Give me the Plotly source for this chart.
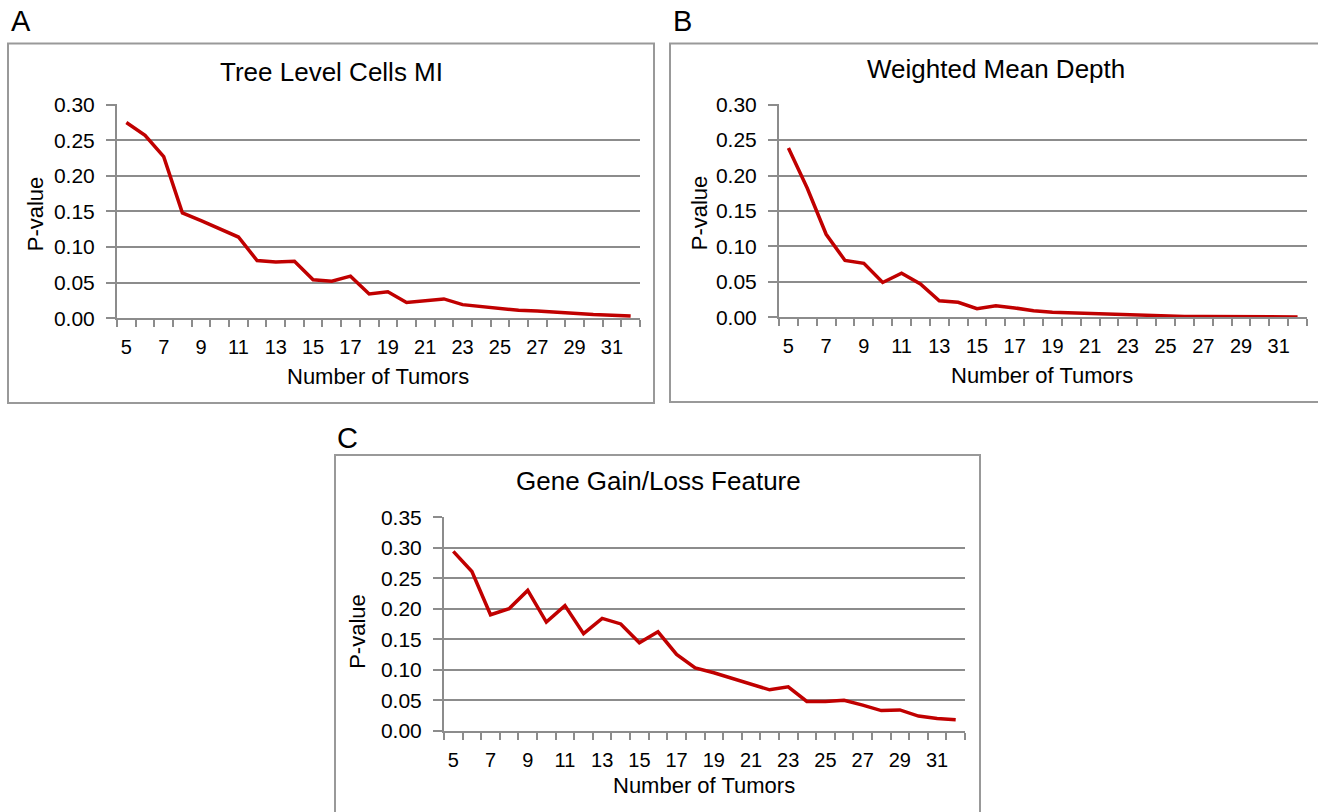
import plotly.graph_objects as go

W, H = 1318, 812

tumors = list(range(5, 33))
tick_labels = [str(v) for v in range(5, 33, 2)]

tree_level_cells_mi = [0.275, 0.257, 0.227, 0.148, 0.137, 0.125, 0.114, 0.081, 0.079, 0.080,
                       0.054, 0.052, 0.059, 0.034, 0.037, 0.022, 0.024, 0.027, 0.019, 0.016,
                       0.013, 0.011, 0.010, 0.008, 0.006, 0.005, 0.004, 0.003]
weighted_mean_depth = [0.239, 0.182, 0.117, 0.080, 0.076, 0.049, 0.062, 0.047, 0.023, 0.021,
                       0.012, 0.016, 0.013, 0.009, 0.007, 0.006, 0.005, 0.004, 0.003, 0.002,
                       0.002, 0.001, 0.001, 0.001, 0.001, 0.0005, 0.0005, 0.0003]
gene_gain_loss = [0.294, 0.261, 0.190, 0.200, 0.230, 0.178, 0.205, 0.159, 0.184, 0.175,
                  0.144, 0.162, 0.125, 0.103, 0.095, 0.086, 0.077, 0.067, 0.072, 0.048,
                  0.048, 0.050, 0.042, 0.033, 0.034, 0.024, 0.020, 0.018]

titles = ["Tree Level Cells MI", "Weighted Mean Depth", "Gene Gain/Loss Feature"]
panel_letters = ["A", "B", "C"]
y_max = [0.30, 0.30, 0.35]

FONT = "Liberation Sans, Arial, sans-serif"
GRID = "#8c8c8c"
RED = "#C00000"
BOX = "#999999"


def px_x(x):
    return x / W


def Y(y):
    # compensate the vertical offset/scale observed in the rendered page
    return (y - 9.5) / 0.974


def px_y(y):
    return 1 - Y(y) / H


# plot-area pixel boxes (target screenshot coords): (left, right, top, bottom)
areas = [(117, 640, 103, 317), (779, 1307, 103, 316), (444, 965, 516, 730)]

fig = go.Figure()
series = [tree_level_cells_mi, weighted_mean_depth, gene_gain_loss]
layout = dict(
    width=W, height=H, margin=dict(l=0, r=0, t=0, b=0),
    paper_bgcolor="white", plot_bgcolor="white", showlegend=False,
    font=dict(family=FONT, color="black", size=19),
)

for i, (vals, area) in enumerate(zip(series, areas)):
    sfx = "" if i == 0 else str(i + 1)
    fig.add_trace(go.Scatter(x=tumors, y=vals, mode="lines",
                             line=dict(color=RED, width=3.5),
                             xaxis="x" + sfx, yaxis="y" + sfx, hoverinfo="skip"))
    l, r, t, b = area
    layout["xaxis" + sfx] = dict(
        domain=[px_x(l), px_x(r)], anchor="y" + sfx,
        range=[4.5, 32.5], tickmode="array",
        tickvals=list(range(5, 33, 2)), ticktext=tick_labels,
        ticks="outside", ticklen=6, tickcolor="rgba(0,0,0,0)",
        ticklabelstandoff=4,
        showgrid=False, zeroline=False,
        showline=True, linecolor=GRID, linewidth=2,
        tickfont=dict(size=20, family=FONT, color="black"),
        minor=dict(tick0=4.5, dtick=1, ticks="outside", ticklen=7,
                   tickcolor=GRID, tickwidth=2, showgrid=False),
    )
    ym = y_max[i]
    layout["yaxis" + sfx] = dict(
        domain=[px_y(b), px_y(t)], anchor="x" + sfx,
        range=[0, ym + 0.0004], tickmode="linear", tick0=0, dtick=0.05,
        tickformat=".2f", ticks="outside", ticklen=9, tickcolor=GRID, tickwidth=2,
        ticklabelstandoff=7,
        showgrid=True, gridcolor=GRID, gridwidth=2, zeroline=False,
        showline=True, linecolor=GRID, linewidth=2,
        tickfont=dict(size=21, family=FONT, color="black"),
    )

fig.update_layout(**layout)

# panel boxes
boxes = [(8, 654, 42, 402), (670, 1330, 42, 401), (335, 980, 454, 840)]
for (l, r, t, b) in boxes:
    fig.add_shape(type="rect", xref="paper", yref="paper",
                  x0=px_x(l), x1=px_x(r), y0=px_y(b), y1=px_y(t),
                  line=dict(color=BOX, width=2), fillcolor="rgba(0,0,0,0)", layer="below")

# panel letters
letter_pos = [(9, 20), (671, 20), (335, 437)]
for letter, (x, y) in zip(panel_letters, letter_pos):
    fig.add_annotation(text=letter, x=px_x(x), y=px_y(y), xref="paper", yref="paper",
                       xanchor="left", yanchor="middle", showarrow=False,
                       font=dict(size=29, family=FONT, color="black"))

# panel titles
title_pos = [(331, 71), (996, 68), (658, 480)]
for ttl, (x, y) in zip(titles, title_pos):
    fig.add_annotation(text=ttl, x=px_x(x), y=px_y(y), xref="paper", yref="paper",
                       xanchor="center", yanchor="middle", showarrow=False,
                       font=dict(size=26, family=FONT, color="black"))

# axis titles
xt_pos = [(378, 375), (1042, 374), (704, 785)]
for (x, y) in xt_pos:
    fig.add_annotation(text="Number of Tumors", x=px_x(x), y=px_y(y), xref="paper", yref="paper",
                       xanchor="center", yanchor="middle", showarrow=False,
                       font=dict(size=22, family=FONT, color="black"))
yt_pos = [(35, 213), (699, 212), (358, 630)]
for (x, y) in yt_pos:
    fig.add_annotation(text="P-value", x=px_x(x), y=px_y(y), xref="paper", yref="paper",
                       xanchor="center", yanchor="middle", showarrow=False, textangle=-90,
                       font=dict(size=22, family=FONT, color="black"))

fig.write_html("out.html")
